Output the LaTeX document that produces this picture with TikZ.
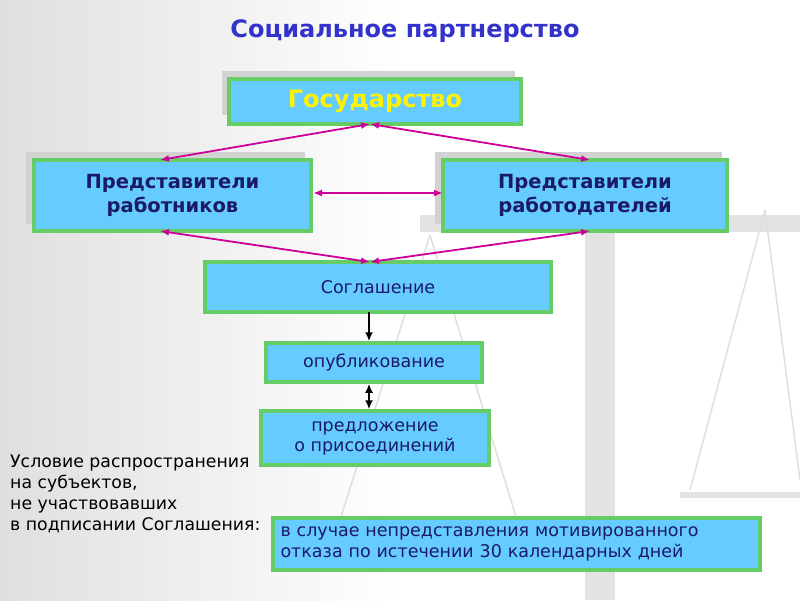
\documentclass[tikz,border=0pt]{standalone}
\usepackage{fontspec}
\usetikzlibrary{arrows.meta}
\setmainfont{DejaVu Sans}
\begin{document}
\begin{tikzpicture}[x=1pt,y=-1pt,
 box/.style={draw=boxgreen,line width=3.5pt,fill=boxblue,inner sep=0pt,align=center,text=txt},
 shadow/.style={fill=gray!35,draw=none},
 marr/.style={draw=arrmag,line width=1.8pt,{Latex[length=9pt,width=7pt]}-{Latex[length=9pt,width=7pt]}},
 barr/.style={draw=black,line width=2.2pt}]
\definecolor{boxgreen}{HTML}{66CC66}
\definecolor{boxblue}{HTML}{66CCFF}
\definecolor{txt}{HTML}{1A1A66}
\definecolor{arrmag}{HTML}{CC0099}
\definecolor{ttl}{HTML}{3333CC}
\shade[left color=gray!25,right color=white,middle color=white] (0,0) rectangle (800,600);
\useasboundingbox (0,0) rectangle (800,600);
% faint scales
\fill[gray!22] (585,230) rectangle (615,600);
\fill[gray!22] (420,215) rectangle (800,232);
\draw[gray!25,line width=1.5pt] (765,210) -- (690,490) (765,210) -- (800,480) (430,235) -- (340,520) (430,235) -- (520,530);
\draw[gray!22,line width=6pt] (680,495) -- (800,495);
\fill[shadow] (222,71) rectangle (515,115);
\fill[shadow] (26,152) rectangle (305,224);
\fill[shadow] (435,152) rectangle (722,224);
\node[font=\bfseries\fontsize{24}{28}\selectfont,text=ttl] (title) at (405,31) {Социальное партнерство};
\node[box,minimum width=292,minimum height=45,text=yellow,font=\bfseries\fontsize{24}{28}\selectfont] (gos) at (375,101.5) {Государство};
\node[box,minimum width=277,minimum height=71,font=\bfseries\fontsize{19.5}{24}\selectfont] (rab) at (172.5,195.5) {Представители\\работников};
\node[box,minimum width=284,minimum height=71,font=\bfseries\fontsize{19.5}{24}\selectfont] (rdt) at (585,195.5) {Представители\\работодателей};
\node[box,minimum width=346,minimum height=50,font=\fontsize{17.5}{21}\selectfont] (sog) at (378,287) {Соглашение};
\node[box,minimum width=216,minimum height=39,font=\fontsize{17.5}{21}\selectfont] (opub) at (374,362.5) {опубликование};
\node[box,minimum width=228,minimum height=54,font=\fontsize{17.5}{20}\selectfont] (pred) at (375,438) {предложение\\о присоединений};
\node[box,minimum width=487,minimum height=52,align=left,text width=472,font=\fontsize{17.5}{21}\selectfont] (sluch) at (516.5,544) {в случае непредставления мотивированного\\отказа по истечении 30 календарных дней};
\node[anchor=north west,align=left,inner sep=0pt,font=\fontsize{17.3}{21}\selectfont] (usl) at (10,455) {Условие распространения\\на субъектов,\\не участвовавших\\в подписании Соглашения:};
\coordinate (g1) at (370,124);
\coordinate (s1) at (370,262);
\draw[marr] (160,160) -- (g1);
\draw[marr] (g1) -- (590,160);
\draw[marr] (313,193) -- (443,193);
\draw[marr] (160,231) -- (s1);
\draw[marr] (s1) -- (590,231);
\draw[barr,-{Latex[length=9pt,width=8pt]}] (369,312) -- (opub.north -| 369,0);
\draw[barr,{Latex[length=9pt,width=8pt]}-{Latex[length=9pt,width=8pt]}] (opub.south -| 369,0) -- (pred.north -| 369,0);
\end{tikzpicture}
\end{document}
